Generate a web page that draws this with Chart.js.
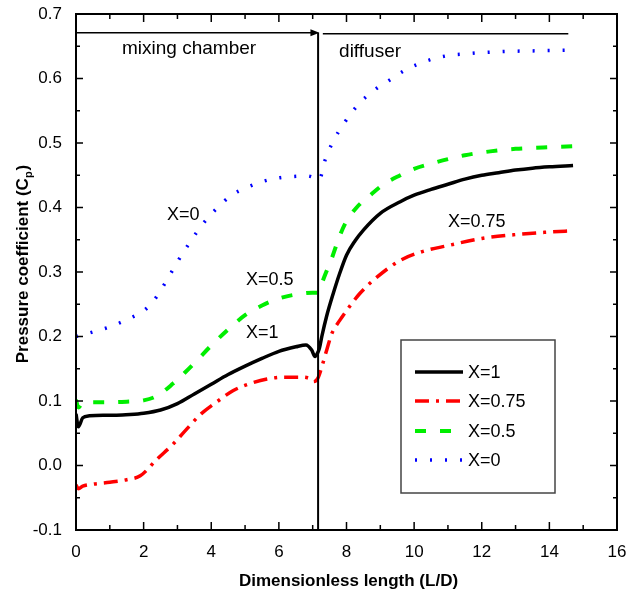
<!DOCTYPE html>
<html><head><meta charset="utf-8">
<script src="https://cdn.jsdelivr.net/npm/chart.js@4.4.0/dist/chart.umd.min.js"></script>
<style>html,body{margin:0;padding:0;background:#fff;}canvas{display:block;}</style>
</head><body>
<canvas id="c" width="633" height="601"></canvas>
<script>
// ---- data ----
const seriesNames = ['X=1', 'X=0.75', 'X=0.5', 'X=0'];
const xTickValues = [0, 2, 4, 6, 8, 10, 12, 14, 16];
const yTickValues = [-0.1, 0.0, 0.1, 0.2, 0.3, 0.4, 0.5, 0.6, 0.7];

const xX1 = [0, 0.07, 0.2, 0.4, 0.8, 1.2, 1.6, 2.0, 2.5, 3.0, 3.5, 4.0, 4.5, 5.0, 5.5, 6.0, 6.5, 6.8, 6.97, 7.07, 7.15, 7.2, 7.27, 7.41, 7.61, 7.8, 8.0, 8.25, 8.5, 9.0, 9.59, 10.0, 10.5, 11.0, 11.5, 12.0, 12.5, 13.0, 13.5, 14.0, 14.7];
const yX1 = [0.08, 0.06, 0.074, 0.077, 0.078, 0.078, 0.079, 0.081, 0.086, 0.096, 0.111, 0.126, 0.141, 0.154, 0.166, 0.177, 0.184, 0.187, 0.179, 0.169, 0.175, 0.182, 0.2, 0.231, 0.267, 0.298, 0.326, 0.348, 0.365, 0.391, 0.409, 0.419, 0.428, 0.436, 0.444, 0.45, 0.454, 0.458, 0.461, 0.463, 0.465];

const xX075 = [0, 0.07, 0.2, 0.5, 1.0, 1.5, 1.9, 2.4, 2.87, 3.3, 3.7, 4.2, 4.64, 5.15, 5.65, 6.15, 6.63, 6.9, 7.02, 7.15, 7.27, 7.42, 7.57, 7.8, 8.0, 8.4, 8.9, 9.59, 10.2, 11.0, 12.0, 13.0, 14.0, 14.7];
const yX075 = [-0.03, -0.036, -0.032, -0.029, -0.026, -0.022, -0.016, 0.01, 0.033, 0.058, 0.08, 0.1, 0.116, 0.127, 0.134, 0.137, 0.137, 0.135, 0.13, 0.135, 0.153, 0.18, 0.205, 0.225, 0.24, 0.267, 0.292, 0.318, 0.331, 0.341, 0.352, 0.358, 0.362, 0.364];

const xX05 = [0, 0.07, 0.2, 0.5, 1.0, 1.5, 2.0, 2.4, 2.87, 3.2, 3.58, 4.0, 4.5, 5.0, 5.5, 6.0, 6.6, 7.0, 7.15, 7.25, 7.4, 7.57, 7.75, 7.96, 8.3, 8.7, 9.1, 9.59, 10.0, 10.5, 11.0, 11.5, 12.25, 13.0, 13.8, 14.7];
const yX05 = [0.102, 0.09, 0.097, 0.098, 0.098, 0.099, 0.101, 0.108, 0.127, 0.143, 0.163, 0.186, 0.211, 0.233, 0.248, 0.259, 0.266, 0.268, 0.268, 0.28, 0.3, 0.322, 0.349, 0.375, 0.4, 0.419, 0.436, 0.45, 0.46, 0.468, 0.475, 0.481, 0.487, 0.491, 0.493, 0.495];

const xX0 = [0, 0.5, 1.0, 1.5, 2.0, 2.28, 2.65, 2.98, 3.33, 3.73, 4.17, 4.6, 5.0, 5.5, 6.0, 6.4, 6.83, 7.0, 7.1, 7.19, 7.37, 7.6, 7.96, 8.37, 8.8, 9.26, 9.7, 10.15, 10.6, 11.06, 11.5, 11.95, 12.8, 13.7, 14.7];
const yX0 = [0.2, 0.207, 0.215, 0.226, 0.24, 0.254, 0.284, 0.314, 0.343, 0.373, 0.399, 0.419, 0.43, 0.44, 0.446, 0.448, 0.449, 0.447, 0.444, 0.443, 0.474, 0.502, 0.533, 0.561, 0.581, 0.597, 0.612, 0.623, 0.631, 0.636, 0.638, 0.64, 0.642, 0.643, 0.644];

// annotation anchors (data units)
const dividerX = 7.16;
const sectionLineY = 0.671;
const sectionLabels = [
  {text: 'mixing chamber', x: 1.36, y: 0.638},
  {text: 'diffuser', x: 7.78, y: 0.633}
];
const curveLabels = [
  {text: 'X=0', x: 2.69, y: 0.388},
  {text: 'X=0.5', x: 5.03, y: 0.288},
  {text: 'X=1', x: 5.03, y: 0.205},
  {text: 'X=0.75', x: 11.0, y: 0.378}
];

const FONT = '"Liberation Sans", Arial, Helvetica, sans-serif';
function pts(xs, ys) { return xs.map((x, i) => ({x: x, y: ys[i]})); }

const styles = [
  {color: '#000000', width: 3.5, dash: []},
  {color: '#ff0000', width: 3.5, dash: [14, 7, 3, 7]},
  {color: '#00ee00', width: 4, dash: [11, 14]},
  {color: '#0000ff', width: 3.5, dash: [2, 13]}
];
const dataSets = [pts(xX1, yX1), pts(xX075, yX075), pts(xX05, yX05), pts(xX0, yX0)];

function noPad(s) { s.paddingTop = 0; s.paddingBottom = 0; s.paddingLeft = 0; s.paddingRight = 0; }

const decor = {
  id: 'decor',
  afterDraw(chart) {
    const ctx = chart.ctx;
    const xs = chart.scales.x, ys = chart.scales.y;
    const a = chart.chartArea;
    ctx.save();
    // frame
    ctx.strokeStyle = '#000';
    ctx.lineWidth = 2;
    ctx.strokeRect(a.left, a.top, a.right - a.left, a.bottom - a.top);
    // ticks (inward, mirrored)
    ctx.lineWidth = 1.5;
    ctx.beginPath();
    for (let v = 0; v <= 16; v += 1) {
      const p = xs.getPixelForValue(v);
      const major = v % 2 === 0;
      const L = major ? 8 : 5;
      ctx.moveTo(p, a.bottom); ctx.lineTo(p, a.bottom - L);
      ctx.moveTo(p, a.top); ctx.lineTo(p, a.top + L);
    }
    for (let k = -2; k <= 14; k++) {
      const v = k * 0.05;
      const p = ys.getPixelForValue(v);
      const major = k % 2 === 0;
      const L = major ? 7 : 4;
      ctx.moveTo(a.left, p); ctx.lineTo(a.left + L, p);
      ctx.moveTo(a.right, p); ctx.lineTo(a.right - L, p);
    }
    ctx.stroke();

    // divider vertical line
    const dx = xs.getPixelForValue(dividerX);
    const sy = ys.getPixelForValue(sectionLineY);
    ctx.lineWidth = 2;
    ctx.beginPath();
    ctx.moveTo(dx, sy); ctx.lineTo(dx, a.bottom);
    ctx.stroke();
    // arrow mixing chamber
    ctx.lineWidth = 1.5;
    const ax0 = xs.getPixelForValue(0.03);
    const ax1 = xs.getPixelForValue(7.2);
    ctx.beginPath();
    ctx.moveTo(ax0, sy); ctx.lineTo(ax1 - 6, sy);
    ctx.stroke();
    ctx.beginPath();
    ctx.moveTo(ax1, sy); ctx.lineTo(ax1 - 9, sy - 3.5); ctx.lineTo(ax1 - 9, sy + 3.5); ctx.closePath();
    ctx.fillStyle = '#000'; ctx.fill();
    // diffuser line
    ctx.beginPath();
    ctx.moveTo(xs.getPixelForValue(7.3), sy + 1); ctx.lineTo(xs.getPixelForValue(14.56), sy + 1);
    ctx.stroke();

    // section labels
    ctx.fillStyle = '#000';
    ctx.font = '19px ' + FONT;
    ctx.textAlign = 'left';
    ctx.textBaseline = 'alphabetic';
    sectionLabels.forEach(l => ctx.fillText(l.text, xs.getPixelForValue(l.x), ys.getPixelForValue(l.y)));
    // curve labels
    ctx.font = '18px ' + FONT;
    ctx.textBaseline = 'middle';
    curveLabels.forEach(l => ctx.fillText(l.text, xs.getPixelForValue(l.x), ys.getPixelForValue(l.y)));

    // legend
    const bx = 401, by = 340, bw = 154, bh = 153;
    ctx.strokeStyle = '#444';
    ctx.lineWidth = 1.5;
    ctx.strokeRect(bx, by, bw, bh);
    const rows = [372, 401, 431, 460];
    seriesNames.forEach((n, i) => {
      const st = styles[i];
      ctx.strokeStyle = st.color;
      ctx.lineWidth = st.width;
      ctx.setLineDash(st.dash);
      ctx.lineDashOffset = 0;
      ctx.beginPath();
      ctx.moveTo(415, rows[i]); ctx.lineTo(463, rows[i]);
      ctx.stroke();
      ctx.setLineDash([]);
      ctx.fillStyle = '#000';
      ctx.font = '18px ' + FONT;
      ctx.textBaseline = 'middle';
      ctx.fillText(n, 468, rows[i] + 1);
    });

    // axis titles
    ctx.fillStyle = '#000';
    ctx.font = 'bold 17px ' + FONT;
    ctx.textAlign = 'center';
    ctx.textBaseline = 'middle';
    ctx.fillText('Dimensionless length (L/D)', (a.left + a.right) / 2 + 2, 581);

    ctx.save();
    ctx.translate(22, 264);
    ctx.rotate(-Math.PI / 2);
    const main = 'Pressure coefficient (C';
    ctx.font = 'bold 17px ' + FONT;
    const w1 = ctx.measureText(main).width;
    ctx.font = 'bold 11px ' + FONT;
    const w2 = ctx.measureText('p').width;
    ctx.font = 'bold 17px ' + FONT;
    const w3 = ctx.measureText(')').width;
    const total = w1 + w2 + w3 + 1;
    let cx = -total / 2;
    ctx.textAlign = 'left';
    ctx.textBaseline = 'alphabetic';
    ctx.fillText(main, cx, 6);
    cx += w1;
    ctx.font = 'bold 11px ' + FONT;
    ctx.fillText('p', cx, 10);
    cx += w2 + 1;
    ctx.font = 'bold 17px ' + FONT;
    ctx.fillText(')', cx, 6);
    ctx.restore();

    ctx.restore();
  }
};

new Chart(document.getElementById('c'), {
  type: 'line',
  data: {
    datasets: seriesNames.map((n, i) => ({
      label: n,
      data: dataSets[i],
      borderColor: styles[i].color,
      borderWidth: styles[i].width,
      borderDash: styles[i].dash,
      borderCapStyle: 'butt',
      pointRadius: 0,
      fill: false,
      cubicInterpolationMode: 'monotone'
    }))
  },
  options: {
    responsive: false,
    animation: false,
    devicePixelRatio: 1,
    layout: {padding: {top: 14, right: 16, left: 0, bottom: 0}},
    plugins: {legend: {display: false}, tooltip: {enabled: false}},
    scales: {
      x: {
        type: 'linear', min: 0, max: 16,
        afterFit(s) { s.height = 71; noPad(s); },
        afterBuildTicks(s) { s.ticks = xTickValues.map(v => ({value: v})); },
        grid: {display: false, drawTicks: false},
        border: {display: false},
        ticks: {color: '#000', font: {family: FONT, size: 17}, padding: 12, maxRotation: 0, autoSkip: false,
          callback: v => String(v)}
      },
      y: {
        type: 'linear', min: -0.1, max: 0.7,
        afterFit(s) { s.width = 76; noPad(s); },
        afterBuildTicks(s) { s.ticks = yTickValues.map(v => ({value: v})); },
        grid: {display: false, drawTicks: false},
        border: {display: false},
        ticks: {color: '#000', font: {family: FONT, size: 17}, padding: 14, autoSkip: false,
          callback: v => Number(v).toFixed(1)}
      }
    }
  },
  plugins: [decor]
});
</script>
</body></html>
